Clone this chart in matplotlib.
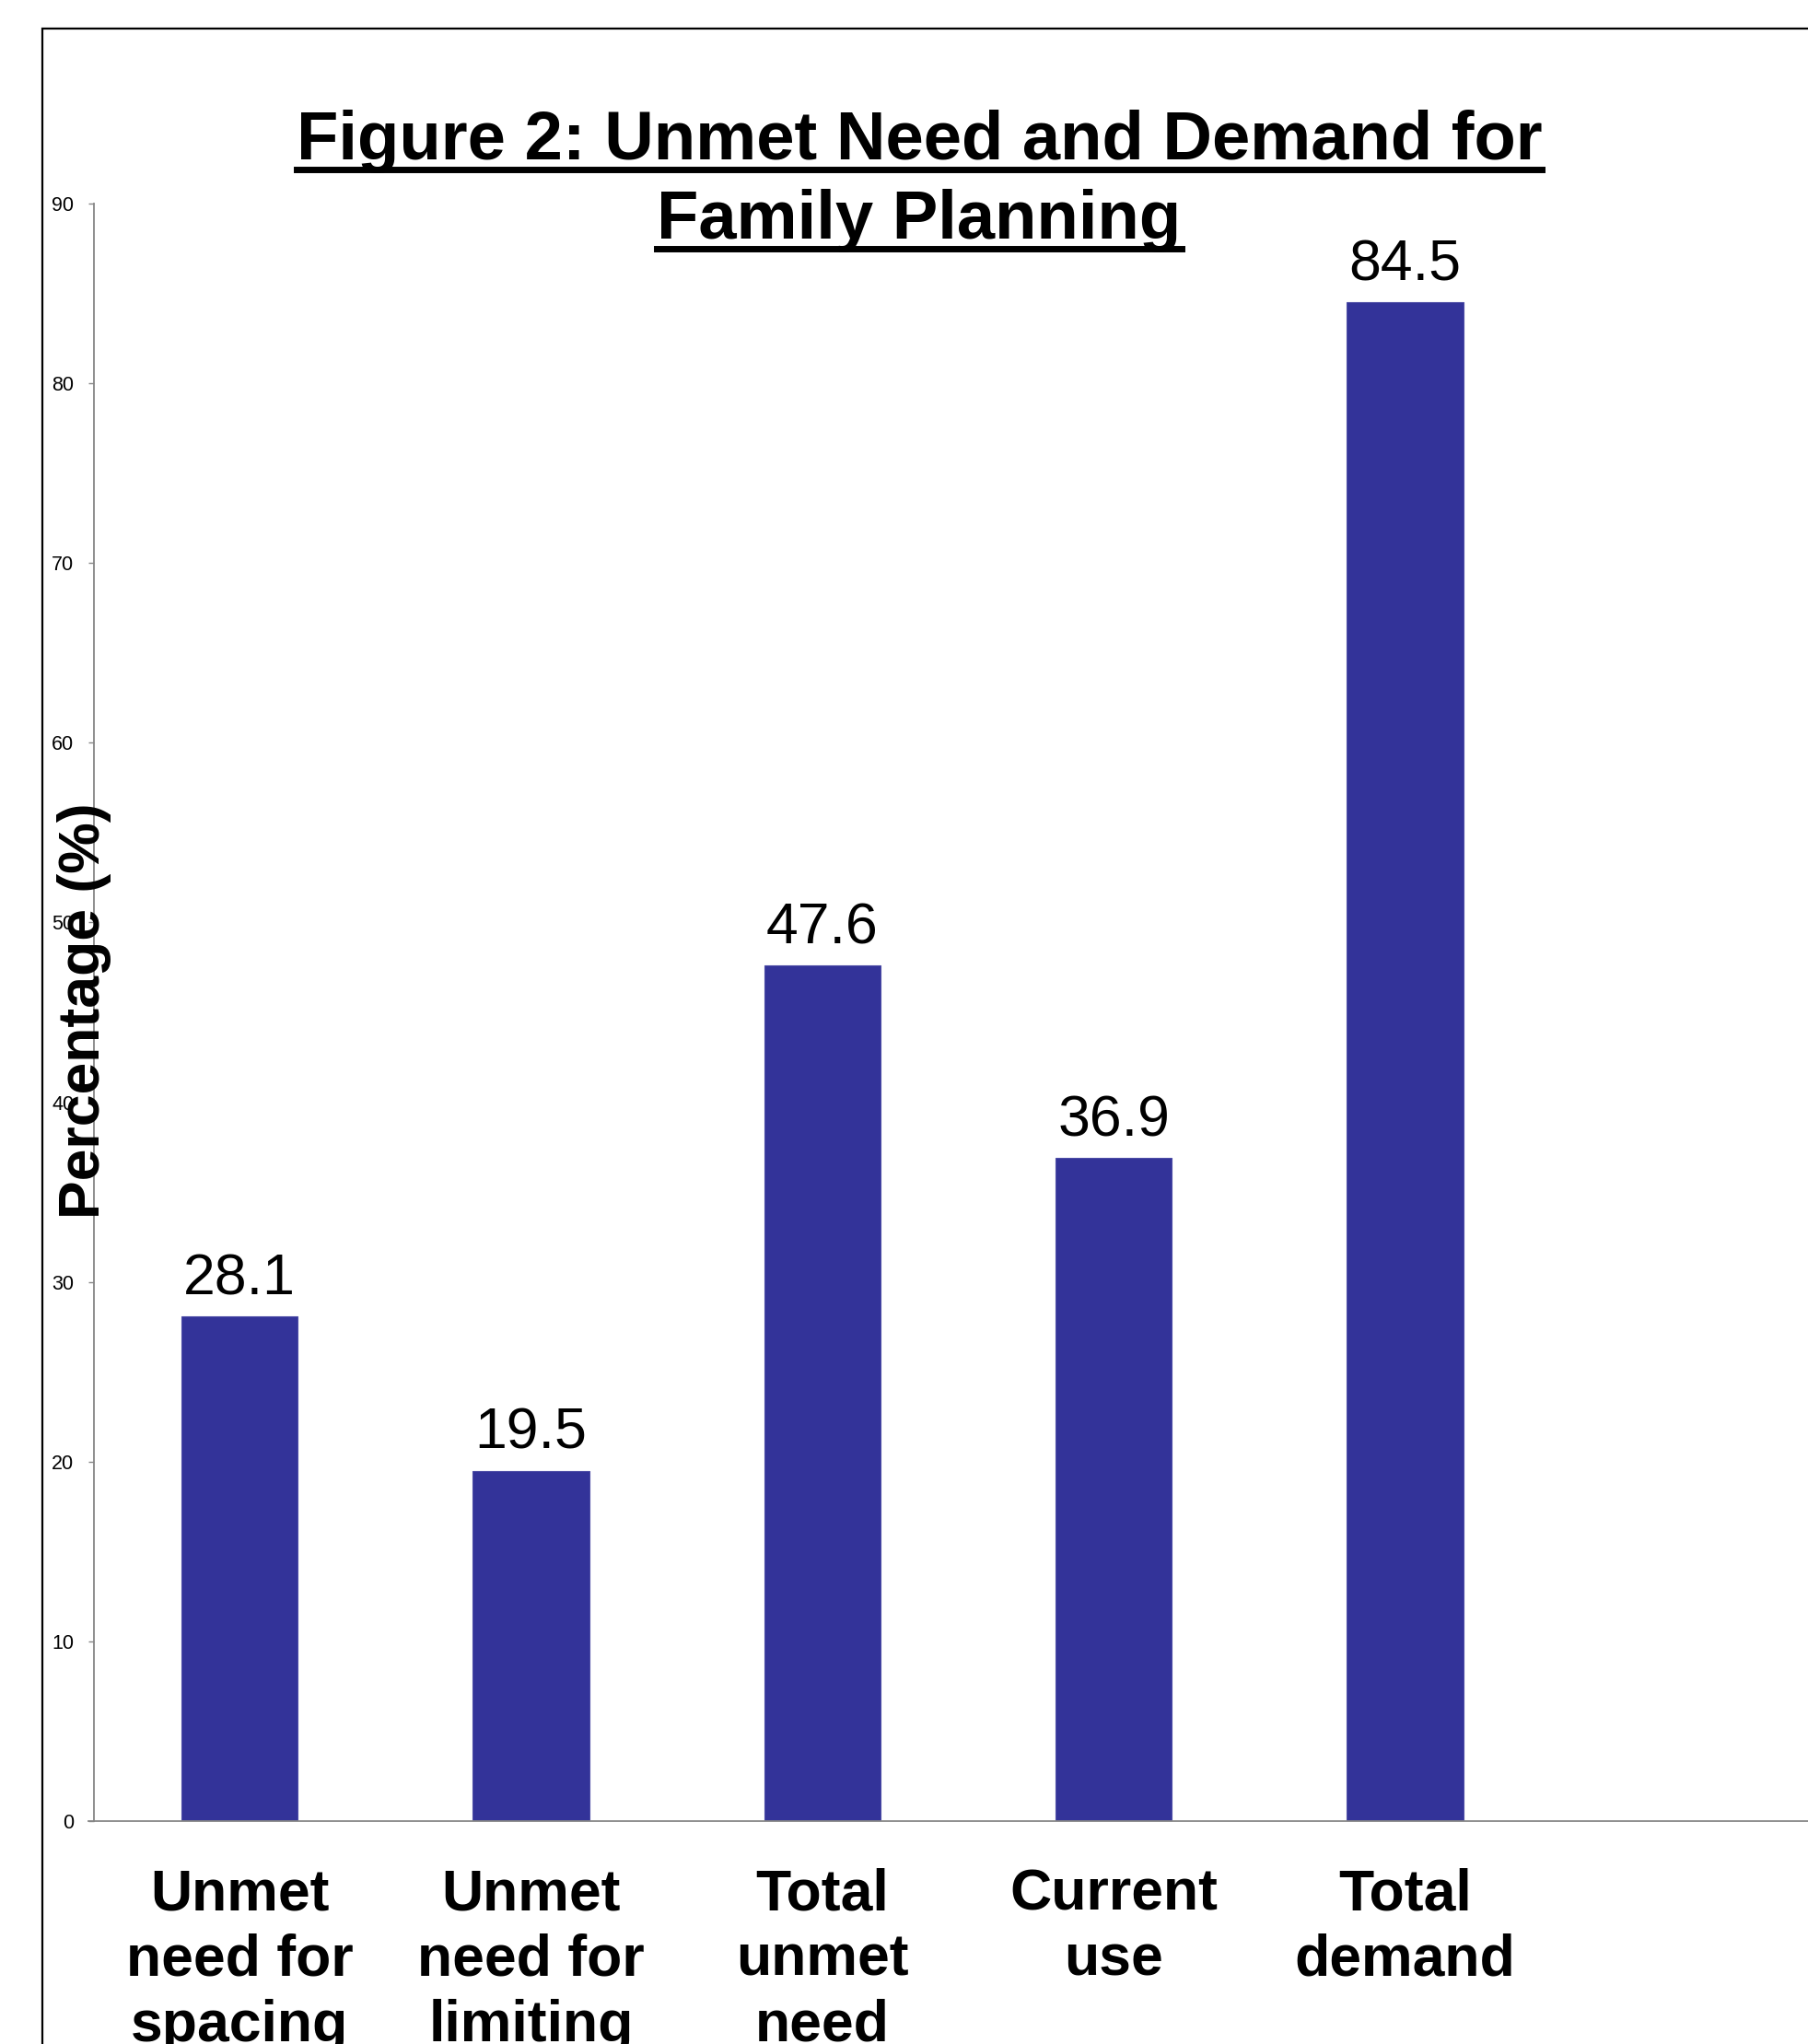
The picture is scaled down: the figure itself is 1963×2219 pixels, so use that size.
"""Figure 2: unmet need and demand for family planning (bar chart)."""

import matplotlib
matplotlib.use("Agg")
import matplotlib.pyplot as plt
from matplotlib.lines import Line2D
from matplotlib.patches import Rectangle

categories = ["Unmet\nneed for\nspacing", "Unmet\nneed for\nlimiting",
              "Total\nunmet\nneed", "Current\nuse", "Total\ndemand"]
values = [28.1, 19.5, 47.6, 36.9, 84.5]
y_ticks = [0, 10, 20, 30, 40, 50, 60, 70, 80, 90]
title_lines = ["Figure 2: Unmet Need and Demand for", "Family Planning"]

plt.rcParams["font.family"] = ["Liberation Sans", "DejaVu Sans"]

DPI = 100
W, H = 1963, 2219
fig = plt.figure(figsize=(W / DPI, H / DPI), dpi=DPI)

# outer frame, clipped by the right and bottom edges of the image
fig.add_artist(Rectangle((46 / W, -0.2), 2.0, 1.2 - 31 / H,
                         transform=fig.transFigure, fill=False,
                         edgecolor="black", linewidth=1.6))

# axes run past the right edge of the figure, like the original
ax = fig.add_axes([102 / W, 1 - 1977 / H, 1898 / W, (1977 - 221) / H])
x = list(range(len(categories)))
ax.bar(x, values, width=0.4, color="#333399", edgecolor="#4d4da6", linewidth=0.8)

for xi, v in zip(x, values):
    ax.annotate(f"{v}", (xi, v), xytext=(0, 17), textcoords="offset points",
                ha="center", va="baseline", fontsize=45)

ax.set_xlim(-0.5, 5.5)
ax.set_ylim(0, 90)
ax.set_yticks(y_ticks)
ax.set_yticklabels([str(t) for t in y_ticks], fontsize=15.5)
ax.set_xticks(x)
ax.set_xticklabels(categories, fontsize=45, fontweight="bold", linespacing=1.27)

ax.tick_params(axis="y", length=4.5, width=1.0, color="#868686", pad=11, direction="out")
ax.tick_params(axis="x", length=0, pad=36)

for side in ("top", "right"):
    ax.spines[side].set_visible(False)
for side in ("left", "bottom"):
    ax.spines[side].set_color("#868686")
    ax.spines[side].set_linewidth(1.3)
ax.spines["bottom"].set_bounds(-0.5 - 6 / 316.0, 5.5)

fig.text(92 / W, 1 - 1097 / H, "Percentage (%)", rotation=90, ha="center",
         va="center", fontsize=45, fontweight="bold")

# title, two lines, underlined by hand
title_y = [1 - 173 / H, 1 - 259 / H]
texts = []
for line, ty in zip(title_lines, title_y):
    texts.append(fig.text(998 / W, ty, line, ha="center", va="baseline",
                          fontsize=53.5, fontweight="bold"))

fig.canvas.draw()
renderer = fig.canvas.get_renderer()
for t, ty in zip(texts, title_y):
    bb = t.get_window_extent(renderer)
    uy = ty - 11 / H
    fig.add_artist(Line2D([bb.x0 / W, bb.x1 / W], [uy, uy],
                          transform=fig.transFigure, color="black", linewidth=5))

fig.savefig("out.png", dpi=DPI)
